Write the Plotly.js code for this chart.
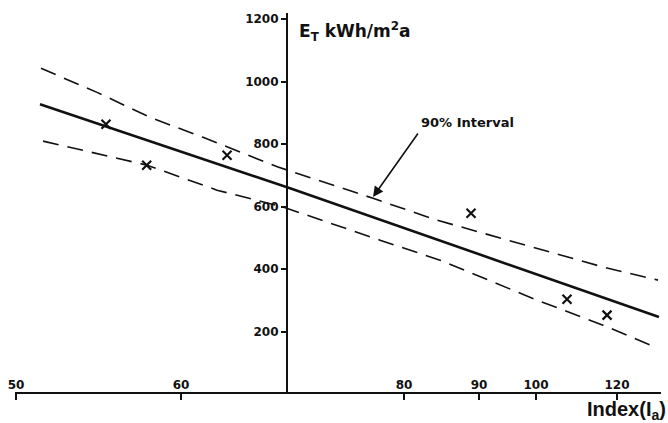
<!DOCTYPE html>
<html>
<head>
<meta charset="utf-8">
<script src="https://cdn.plot.ly/plotly-3.0.1.min.js"></script>
<style>html,body{margin:0;padding:0;background:#fff;}#chart{width:668px;height:423px;}</style>
</head>
<body>
<div id="chart"></div>
<script>
// Axis units: linear position units along the drawn index axis (labels are the printed index values)
const xTickVals = [45.2, 60, 80, 86.73, 91.84, 99.1];
const xTickText = ['50', '60', '80', '90', '100', '120'];
const yTickVals = [200, 400, 600, 800, 1000, 1200];

// Measured buildings (x marks)
const pointX = [53.27, 56.92, 64.13, 86.01, 94.62, 98.21];
const pointY = [864, 733, 765, 579, 304, 253];

// Regression line
const fitX = [47.35, 69.78, 102.87];
const fitY = [928, 659, 247];

// 90% interval, upper bound
const upperX = [47.44, 52.47, 57.22, 61.97, 68.70, 77.22, 82.96, 91.93, 97.85, 102.78];
const upperY = [1043, 966, 886, 822, 727, 627, 557, 467, 407, 365];

// 90% interval, lower bound
const lowerX = [47.62, 56.95, 63.23, 69.15, 77.85, 83.23, 91.93, 97.85, 102.69];
const lowerY = [810, 733, 653, 599, 493, 429, 301, 221, 148];

const bold = {family: 'DejaVu Sans', size: 12, color: '#111', weight: 'bold'};

const traces = [
  {x: upperX, y: upperY, mode: 'lines', line: {color: '#111', width: 1.6, dash: '16px,9px'}, hoverinfo: 'skip'},
  {x: lowerX, y: lowerY, mode: 'lines', line: {color: '#111', width: 1.6, dash: '16px,9px'}, hoverinfo: 'skip'},
  {x: fitX, y: fitY, mode: 'lines', line: {color: '#111', width: 2.6}, hoverinfo: 'skip'},
  {x: pointX, y: pointY, mode: 'markers', marker: {symbol: 'x-thin', size: 9, color: '#111', line: {color: '#111', width: 2.2}}}
];

const layout = {
  width: 668, height: 423,
  margin: {l: 15, r: 7, t: 13, b: 31},
  paper_bgcolor: '#fff', plot_bgcolor: '#fff',
  showlegend: false,
  xaxis: {
    range: [45.11, 103.05], showgrid: false, zeroline: false,
    showline: true, linecolor: '#111', linewidth: 1.6,
    tickmode: 'array', tickvals: xTickVals, ticktext: xTickText,
    ticks: 'outside', ticklen: 6, tickwidth: 1.6, tickcolor: '#111',
    ticklabelposition: 'inside', ticklabeloverflow: 'allow', tickfont: bold
  },
  yaxis: {
    range: [7, 1220], showgrid: false, zeroline: false,
    anchor: 'free', position: 0.421,
    showline: true, linecolor: '#111', linewidth: 2,
    tickmode: 'array', tickvals: yTickVals,
    ticks: 'outside', ticklen: 5, tickwidth: 1.6, tickcolor: '#111',
    tickfont: bold
  },
  annotations: [
    {xref: 'paper', yref: 'paper', x: 0.4365, y: 0.9525, xanchor: 'left', yanchor: 'middle', showarrow: false,
     text: 'E<sub>T</sub> kWh/m<sup>2</sup>a', font: {family: 'DejaVu Sans', size: 17, color: '#111', weight: 'bold'}},
    {xref: 'paper', yref: 'paper', x: 0.882, y: -0.05, xanchor: 'left', yanchor: 'middle', showarrow: false,
     text: 'Index(I<sub>a</sub>)', font: {family: 'Liberation Sans', size: 20, color: '#111', weight: 'bold'}},
    {xref: 'paper', yref: 'paper', x: 0.6254, y: 0.7124, xanchor: 'left', yanchor: 'middle', showarrow: false,
     text: '90% Interval', font: {family: 'DejaVu Sans', size: 13, color: '#111', weight: 'bold'}},
    {xref: 'x', yref: 'y', x: 77.22, y: 631, ax: 46, ay: -65, text: '', showarrow: true,
     arrowhead: 2, arrowsize: 1.3, arrowwidth: 1.6, arrowcolor: '#111'}
  ]
};

Plotly.newPlot('chart', traces, layout, {displayModeBar: false, staticPlot: true});
</script>
</body>
</html>
